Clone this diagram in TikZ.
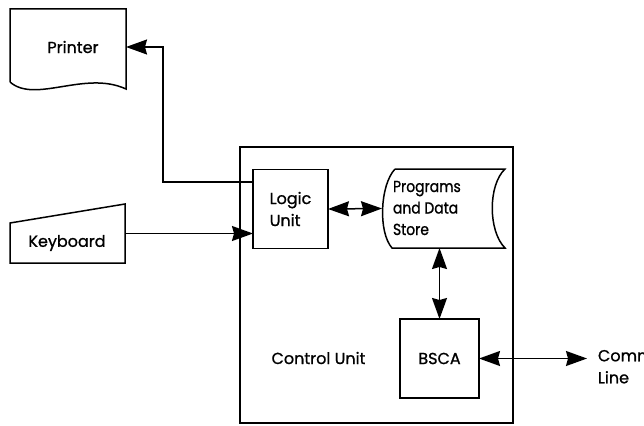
\documentclass[tikz,border=0pt]{standalone}
\usepackage{fontspec}
\setmainfont{Poppins}[FakeBold=1]
\newfontfamily\narrowfont{Poppins}[FakeBold=1, FakeStretch=0.87]
\usetikzlibrary{arrows.meta}
\begin{document}
\begin{tikzpicture}[x=1pt,y=-1pt,
  every node/.style={font=\fontsize{16}{22}\selectfont, inner sep=0pt, outer sep=0pt},
  ln/.style={line width=1.5pt, line join=miter},
  arr/.style={ln, -{Stealth[length=21pt,width=15pt,inset=2pt]}},
  darr/.style={ln, {Stealth[length=21pt,width=15pt,inset=2pt]}-{Stealth[length=21pt,width=15pt,inset=2pt]}},
  ghost/.style={rectangle, draw=none, minimum width=#1},
]
\useasboundingbox (0,0) rectangle (644,425);

% Printer (document symbol)
\node[ghost=116pt, minimum height=76pt] (printer) at (68,47) {};
\draw[ln] (printer.west |- 0,82) -- (printer.north west) -- (printer.north east) -- (printer.east |- 0,89)
  .. controls (85,70) and (35,104) .. (printer.west |- 0,82);
\node (printertxt) at (73,47) {Printer};

% Keyboard (manual input symbol)
\node[ghost=115pt, minimum height=59pt] (kb) at (67.5,233.5) {};
\draw[ln] (kb.west |- 0,223) -- (kb.north east) -- (kb.south east) -- (kb.south west) -- cycle;
\node (kbtxt) at (67,243) {Keyboard};

% Control unit
\node[draw, ln, rectangle, minimum width=273pt, minimum height=276pt] (cu) at (376.5,285) {};
\node (cutxt) at (318.5,358) {Control Unit};

% Logic unit
\node[draw, ln, rectangle, minimum width=75pt, minimum height=79pt, align=left] (logic) at (290.5,209) {Logic\\Unit};

% Programs and Data Store (stored data symbol)
\node[ghost=123pt, minimum height=79pt] (prog) at (443.5,208.5) {};
\draw[ln] (395,169) -- (505,169) .. controls (488,185) and (488,231) .. (505,248)
  -- (392,248) .. controls (378,232) and (380,185) .. (395,169);
\node[align=left, anchor=west, font=\narrowfont\fontsize{16}{21.5}\selectfont] (progtxt) at (393,208) {Programs\\and Data\\Store};

% BSCA
\node[draw, ln, rectangle, minimum width=79pt, minimum height=79pt] (bsca) at (439.5,358.5) {BSCA};

% Comm line
\node[align=left, anchor=north west] (comm) at (598,350) {Comm\\Line};
\coordinate (commend) at (587,358.5);

% connectors
\coordinate (pj) at (163,182);
\draw[arr] (pj -| logic.west) -- (pj) |- (printer.east);
\draw[arr] (kb.east) -- (kb.east -| logic.west);
\draw[darr] (logic.east) -- (prog.west);
\draw[darr] (bsca.north) -- (bsca.north |- prog.south);
\draw[darr] (bsca.east) -- (commend);
\end{tikzpicture}
\end{document}
